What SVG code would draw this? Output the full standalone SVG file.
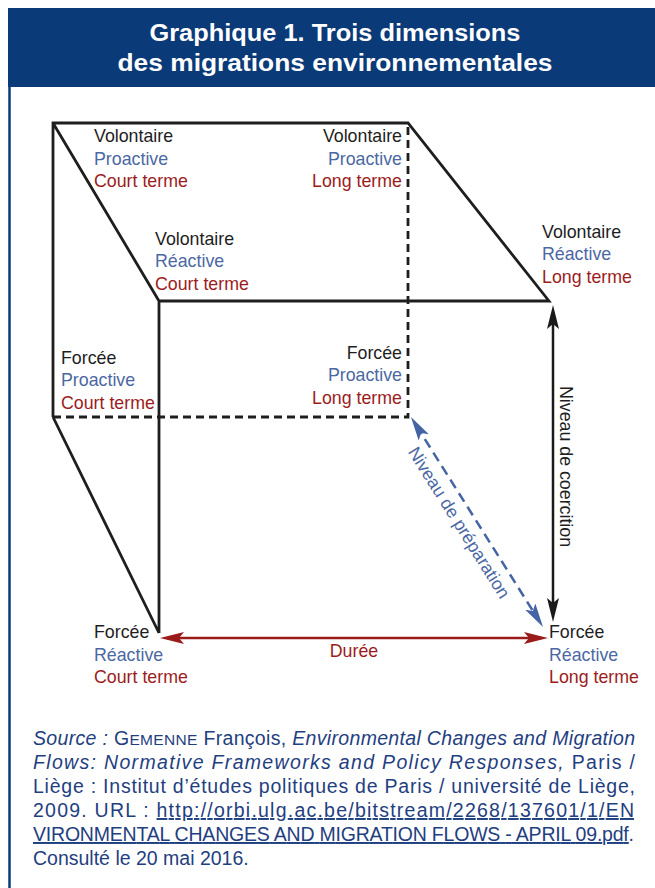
<svg xmlns="http://www.w3.org/2000/svg" width="655" height="888" viewBox="0 0 655 888">
  <style>
    .lbl { font-family: "Liberation Sans", Arial, sans-serif; font-size: 17.8px; }
    .k { fill: #1e1e1e; }
    .b { fill: #4b68a3; }
    .r { fill: #9c1c1c; }
    .end { text-anchor: end; }
    .title { font-family: "Liberation Sans", Arial, sans-serif; font-size: 24px; font-weight: bold; fill: #ffffff; text-anchor: middle; }
    .src { font-family: "Liberation Sans", Arial, sans-serif; font-size: 19.5px; fill: #1f4080; }
    .it { font-style: italic; }
    .url { text-decoration: underline; }
    .edge { fill: none; stroke: #1e1e1e; stroke-width: 2.8; stroke-linejoin: miter; }
    .hidden { fill: none; stroke: #1e1e1e; stroke-width: 2.8; stroke-dasharray: 8 5; }
  </style>
  <defs>
    <marker id="ahK" markerUnits="userSpaceOnUse" markerWidth="26" markerHeight="14" refX="14" refY="6" orient="auto-start-reverse" viewBox="0 0 26 14">
      <path d="M0,0 L24,6 L0,12 L5,6 Z" fill="#1a1a1a"/>
    </marker>
    <marker id="ahB" markerUnits="userSpaceOnUse" markerWidth="26" markerHeight="14" refX="14" refY="6" orient="auto-start-reverse" viewBox="0 0 26 14">
      <path d="M0,0 L24,6 L0,12 L5,6 Z" fill="#4564a3"/>
    </marker>
    <marker id="ahR" markerUnits="userSpaceOnUse" markerWidth="26" markerHeight="14" refX="14" refY="6" orient="auto-start-reverse" viewBox="0 0 26 14">
      <path d="M0,0 L24,6 L0,12 L5,6 Z" fill="#9b1a1a"/>
    </marker>
  </defs>

  <rect width="655" height="888" fill="#ffffff"/>

  <!-- title band and left rule -->
  <g id="header">
    <rect x="8" y="8" width="647" height="79" fill="#0b3a78"/>
    <line x1="9.5" y1="87" x2="9.5" y2="888" stroke="#0b3a78" stroke-width="2.5"/>
    <text class="title" x="335" y="41" textLength="371" lengthAdjust="spacingAndGlyphs">Graphique 1. Trois dimensions</text>
    <text class="title" x="335" y="71" textLength="435" lengthAdjust="spacingAndGlyphs">des migrations environnementales</text>
  </g>

  <!-- cube edges -->
  <g id="cube">
    <path class="edge" d="M53,417 L53,123 L408,123 L549,301 L159,301 L159,633 M53,123 L159,301 M53,417 L159,633"/>
    <path class="hidden" d="M53,417 L408,417 L408,123"/>
  </g>

  <!-- axis connectors -->
  <g id="connectors">
    <line x1="553" y1="315" x2="553" y2="612" stroke="#1a1a1a" stroke-width="2.5" marker-start="url(#ahK)" marker-end="url(#ahK)"/>
    <line x1="416.3" y1="425.5" x2="537.7" y2="618.5" stroke="#4564a3" stroke-width="2.5" stroke-dasharray="10 6" marker-start="url(#ahB)" marker-end="url(#ahB)"/>
    <line x1="170" y1="638" x2="538" y2="638" stroke="#9b1a1a" stroke-width="2.5" marker-start="url(#ahR)" marker-end="url(#ahR)"/>
    <text class="lbl k" transform="translate(560,466.5) rotate(90)" text-anchor="middle">Niveau de coercition</text>
    <text class="lbl b" transform="translate(411,417) rotate(57.85)" x="115" y="21.5" text-anchor="middle">Niveau de préparation</text>
    <text class="lbl r" x="354" y="657" text-anchor="middle">Durée</text>
  </g>

  <!-- corner labels -->
  <g id="n-vol-pro-court">
    <text class="lbl k" x="94" y="142">Volontaire</text>
    <text class="lbl b" x="94" y="164.5">Proactive</text>
    <text class="lbl r" x="94" y="187">Court terme</text>
  </g>
  <g id="n-vol-pro-long">
    <text class="lbl k end" x="402" y="142">Volontaire</text>
    <text class="lbl b end" x="402" y="164.5">Proactive</text>
    <text class="lbl r end" x="402" y="187">Long terme</text>
  </g>
  <g id="n-vol-rea-court">
    <text class="lbl k" x="155" y="245">Volontaire</text>
    <text class="lbl b" x="155" y="267">Réactive</text>
    <text class="lbl r" x="155" y="289.5">Court terme</text>
  </g>
  <g id="n-vol-rea-long">
    <text class="lbl k" x="542" y="238">Volontaire</text>
    <text class="lbl b" x="542" y="260">Réactive</text>
    <text class="lbl r" x="542" y="282.5">Long terme</text>
  </g>
  <g id="n-for-pro-court">
    <text class="lbl k" x="61" y="363.5">Forcée</text>
    <text class="lbl b" x="61" y="385.5">Proactive</text>
    <text class="lbl r" x="61" y="408.5">Court terme</text>
  </g>
  <g id="n-for-pro-long">
    <text class="lbl k end" x="402" y="358.5">Forcée</text>
    <text class="lbl b end" x="402" y="381">Proactive</text>
    <text class="lbl r end" x="402" y="404">Long terme</text>
  </g>
  <g id="n-for-rea-court">
    <text class="lbl k" x="94" y="638">Forcée</text>
    <text class="lbl b" x="94" y="660.5">Réactive</text>
    <text class="lbl r" x="94" y="683">Court terme</text>
  </g>
  <g id="n-for-rea-long">
    <text class="lbl k" x="549" y="638">Forcée</text>
    <text class="lbl b" x="549" y="660.5">Réactive</text>
    <text class="lbl r" x="549" y="683">Long terme</text>
  </g>

  <!-- source note -->
  <g id="source">
    <text class="src" x="33" y="745" textLength="602" lengthAdjust="spacing"><tspan class="it">Source :</tspan> G<tspan font-size="15.5">EMENNE</tspan> François, <tspan class="it">Environmental Changes and Migration</tspan></text>
    <text class="src" x="33" y="769" textLength="602" lengthAdjust="spacing"><tspan class="it">Flows: Normative Frameworks and Policy Responses,</tspan> Paris /</text>
    <text class="src" x="33" y="793" textLength="602" lengthAdjust="spacing">Liège : Institut d’études politiques de Paris / université de Liège,</text>
    <text class="src" x="33" y="817" textLength="601" lengthAdjust="spacing">2009. URL : <tspan class="url">http://orbi.ulg.ac.be/bitstream/2268/137601/1/EN</tspan></text>
    <text class="src" x="33" y="841" textLength="601" lengthAdjust="spacing"><tspan class="url">VIRONMENTAL CHANGES AND MIGRATION FLOWS - APRIL 09.pdf</tspan>.</text>
    <text class="src" x="33" y="865">Consulté le 20 mai 2016.</text>
  </g>
</svg>
